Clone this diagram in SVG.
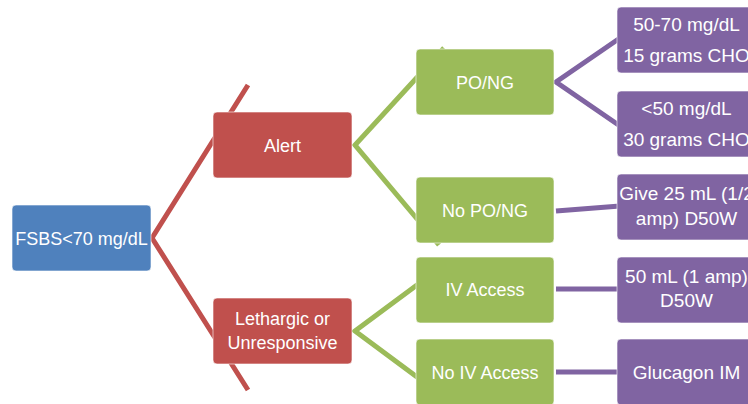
<svg xmlns="http://www.w3.org/2000/svg" width="748" height="404" viewBox="0 0 748 404">
  <style>
    .box { stroke: #ffffff; stroke-opacity: 0.6; stroke-width: 1; }
    .blue { fill: #4F81BD; }
    .red { fill: #C0504D; }
    .green { fill: #9BBB59; }
    .purple { fill: #8064A2; }
    .t { fill: #ffffff; font-family: "Liberation Sans", Arial, sans-serif; font-size: 18px; text-anchor: middle; }
    .tp { fill: #ffffff; font-family: "Liberation Sans", Arial, sans-serif; font-size: 19px; text-anchor: middle; }
    .c { fill: none; stroke-width: 5; stroke-linejoin: miter; stroke-miterlimit: 10; }
    .cr { stroke: #C0504D; }
    .cg { stroke: #9BBB59; }
    .cp { stroke: #8064A2; }
  </style>
  <rect width="748" height="404" fill="#ffffff"/>
  <g id="connectors">
    <polyline class="c cr" points="248,85 152,238 248,390"/>
    <polyline class="c cg" points="444,48 355,145 439,245"/>
    <polyline class="c cg" points="448,262 355,331 448,400"/>
    <polyline class="c cp" points="620,38 556,82 620,126"/>
    <line class="c cp" x1="556" y1="211" x2="620" y2="206"/>
    <line class="c cp" x1="556" y1="289" x2="620" y2="289"/>
    <line class="c cp" x1="556" y1="372" x2="620" y2="372"/>
  </g>
  <g id="fsbs">
    <rect class="box blue" x="12" y="205" width="139" height="66" rx="4"/>
    <text class="t" x="81.5" y="244.5">FSBS&lt;70 mg/dL</text>
  </g>
  <g id="alert">
    <rect class="box red" x="213" y="112" width="139" height="66" rx="4"/>
    <text class="t" x="282.5" y="151.5">Alert</text>
  </g>
  <g id="lethargic">
    <rect class="box red" x="213" y="298" width="139" height="66" rx="4"/>
    <text class="t" x="282.5" y="325">Lethargic or</text>
    <text class="t" x="282.5" y="349">Unresponsive</text>
  </g>
  <g id="pong">
    <rect class="box green" x="416" y="49" width="138" height="66" rx="4"/>
    <text class="t" x="485" y="88.5">PO/NG</text>
  </g>
  <g id="nopong">
    <rect class="box green" x="416" y="177" width="138" height="66" rx="4"/>
    <text class="t" x="485" y="216.5">No PO/NG</text>
  </g>
  <g id="iv">
    <rect class="box green" x="416" y="257" width="138" height="66" rx="4"/>
    <text class="t" x="485" y="296">IV Access</text>
  </g>
  <g id="noiv">
    <rect class="box green" x="416" y="339" width="138" height="66" rx="4"/>
    <text class="t" x="485" y="378.5">No IV Access</text>
  </g>
  <g id="p1">
    <rect class="box purple" x="617" y="7" width="139" height="66" rx="4"/>
    <text class="tp" x="686.5" y="31">50-70 mg/dL</text>
    <text class="tp" x="686.5" y="62">15 grams CHO</text>
  </g>
  <g id="p2">
    <rect class="box purple" x="617" y="91" width="139" height="66" rx="4"/>
    <text class="tp" x="686.5" y="115">&lt;50 mg/dL</text>
    <text class="tp" x="686.5" y="146">30 grams CHO</text>
  </g>
  <g id="p3">
    <rect class="box purple" x="617" y="174" width="139" height="66" rx="4"/>
    <text class="tp" x="686.5" y="200">Give 25 mL (1/2</text>
    <text class="tp" x="686.5" y="225">amp) D50W</text>
  </g>
  <g id="p4">
    <rect class="box purple" x="617" y="257" width="139" height="66" rx="4"/>
    <text class="tp" x="686.5" y="283">50 mL (1 amp)</text>
    <text class="tp" x="686.5" y="307">D50W</text>
  </g>
  <g id="p5">
    <rect class="box purple" x="617" y="339" width="139" height="66" rx="4"/>
    <text class="tp" x="686.5" y="379">Glucagon IM</text>
  </g>
</svg>
